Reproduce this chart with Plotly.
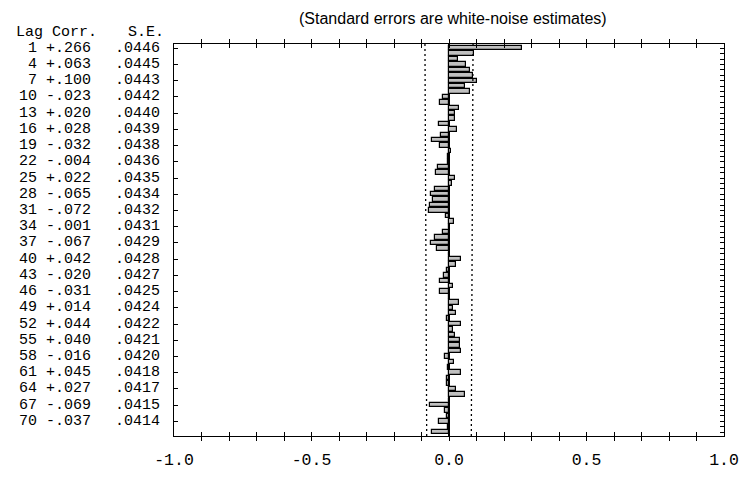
import numpy as np
import plotly.graph_objects as go

# ---------------- data ----------------
lags = list(range(1, 73))
corr = [0.266, 0.091, 0.032, 0.063, 0.078, 0.087, 0.100, 0.058, 0.076,
        -0.023, -0.033, 0.037, 0.020, 0.023, -0.038, 0.028, -0.028, -0.062,
        -0.032, 0.008, -0.003, -0.004, -0.041, -0.048, 0.022, 0.010, -0.052,
        -0.065, -0.058, -0.069, -0.072, -0.012, 0.018, -0.001, -0.021, -0.052,
        -0.067, -0.042, -0.001, 0.042, 0.025, -0.009, -0.020, -0.033, 0.016,
        -0.031, 0.005, 0.038, 0.014, 0.024, -0.007, 0.044, 0.016, 0.022,
        0.040, 0.039, 0.045, -0.016, 0.019, -0.005, 0.045, -0.006, -0.009,
        0.027, 0.057, 0.001, -0.069, -0.016, -0.007, -0.037, -0.003, -0.061]

label_lags = [1, 4, 7, 10, 13, 16, 19, 22, 25, 28, 31, 34, 37, 40, 43, 46,
              49, 52, 55, 58, 61, 64, 67, 70]
label_corr = ["+.266", "+.063", "+.100", "-.023", "+.020", "+.028", "-.032",
              "-.004", "+.022", "-.065", "-.072", "-.001", "-.067", "+.042",
              "-.020", "-.031", "+.014", "+.044", "+.040", "-.016", "+.045",
              "+.027", "-.069", "-.037"]
label_se = [".0446", ".0445", ".0443", ".0442", ".0440", ".0439", ".0438",
            ".0436", ".0435", ".0434", ".0432", ".0431", ".0429", ".0428",
            ".0427", ".0425", ".0424", ".0422", ".0421", ".0420", ".0418",
            ".0417", ".0415", ".0414"]

x_tick_vals = [round(v, 1) for v in np.arange(-1.0, 1.0001, 0.1)]
x_tick_text = {-1.0: "-1.0", -0.5: "-0.5", 0.0: "0.0", 0.5: "0.5", 1.0: "1.0"}

title_text = "(Standard errors are white-noise estimates)"

# ---------------- layout constants ----------------
W, H = 751, 482
L, R, T, B = 174, 15, 44, 27
PW, PH = W - L - R, H - T - B
Y_TOP, Y_BOT = 0.21, 72.71
MONO = "Courier New, Liberation Mono, monospace"
FS = 15


def xp(px):
    return (px - L) / PW


def yp(py):
    return 1 - (py - T) / PH


se_vals = [float(s) for s in label_se]
bound = [1.96 * s for s in se_vals]
ly = [Y_TOP] + label_lags + [Y_BOT]
lb = [bound[0]] + bound + [bound[-1]]

fig = go.Figure()
fig.add_trace(go.Bar(
    x=corr, y=lags, orientation="h", width=0.82,
    marker=dict(color="#c0c0c0", line=dict(color="black", width=1.2)),
    showlegend=False, hoverinfo="x+y"))
for sign in (-1, 1):
    fig.add_trace(go.Scatter(
        x=[sign * v for v in lb], y=ly, mode="lines",
        line=dict(color="black", width=1.3, dash="2px,3px"),
        showlegend=False, hoverinfo="skip"))
fig.add_trace(go.Scatter(x=[0], y=[1], yaxis="y2", mode="markers",
                         marker=dict(opacity=0), showlegend=False,
                         hoverinfo="skip"))

annotations = []
for lg, c, s in zip(label_lags, label_corr, label_se):
    annotations.append(dict(x=xp(90), y=lg, xref="paper", yref="y",
                            text=f"{lg} {c}", xanchor="right", yanchor="middle",
                            borderpad=0,
                            showarrow=False, font=dict(family=MONO, size=FS, color="black")))
    annotations.append(dict(x=xp(113), y=lg, xref="paper", yref="y",
                            text=s, xanchor="left", yanchor="middle",
                            borderpad=0,
                            showarrow=False, font=dict(family=MONO, size=FS, color="black")))
annotations.append(dict(x=xp(12), y=yp(31.5), xref="paper", yref="paper",
                        text="Lag Corr.", xanchor="left", yanchor="middle",
                        borderpad=0,
                        showarrow=False, font=dict(family=MONO, size=FS, color="black")))
annotations.append(dict(x=xp(126), y=yp(31.5), xref="paper", yref="paper",
                        text="S.E.", xanchor="left", yanchor="middle",
                        borderpad=0,
                        showarrow=False, font=dict(family=MONO, size=FS, color="black")))
annotations.append(dict(x=xp(459), y=yp(17), xref="paper", yref="paper",
                        text=title_text, xanchor="center", yanchor="middle",
                        showarrow=False, borderpad=0,
                        font=dict(family="Arial, Liberation Sans, sans-serif", size=16, color="black")))

fig.update_layout(
    width=W, height=H,
    margin=dict(l=L, r=R, t=T, b=B, pad=0),
    paper_bgcolor="white", plot_bgcolor="white",
    bargap=0,
    xaxis=dict(range=[-1, 1], tickvals=x_tick_vals,
               ticktext=[x_tick_text.get(v, "") for v in x_tick_vals],
               ticks="inside", ticklen=4, tickcolor="black", tickwidth=1,
               showline=True, linecolor="black", linewidth=1.2,
               mirror="allticks", showgrid=False,
               zeroline=True, zerolinecolor="black", zerolinewidth=1.5,
               ticklabelstandoff=8, ticklabeloverflow="allow",
               tickfont=dict(family=MONO, size=16.5, color="black")),
    yaxis=dict(range=[Y_BOT, Y_TOP], tickvals=label_lags, showticklabels=False,
               ticks="inside", ticklen=4, tickcolor="black",
               showline=True, linecolor="black", linewidth=1.2,
               showgrid=False, zeroline=False),
    yaxis2=dict(range=[Y_BOT, Y_TOP], overlaying="y", side="right",
                tickvals=lags, showticklabels=False,
                ticks="inside", ticklen=4, tickcolor="black",
                showline=True, linecolor="black", linewidth=1.2,
                showgrid=False, zeroline=False),
    annotations=annotations,
)

fig.write_html("out.html")
